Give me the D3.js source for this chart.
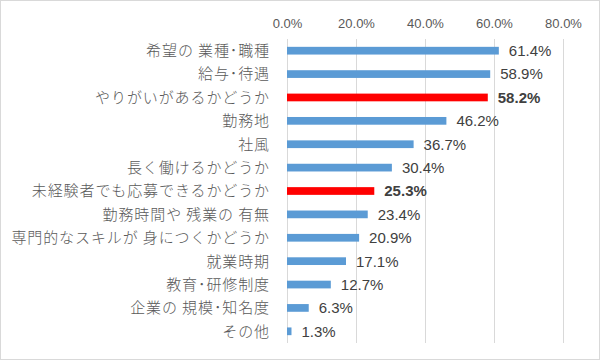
<!DOCTYPE html>
<html><head><meta charset="utf-8">
<script src="https://cdn.jsdelivr.net/npm/d3@7"></script>
<style>html,body{margin:0;padding:0;background:#fff;}svg{display:block;}</style>
</head><body>
<svg id="c" width="600" height="360"></svg>
<script>
const categories = ["希望の 業種･職種","給与･待遇","やりがいがあるかどうか","勤務地","社風","長く働けるかどうか","未経験者でも応募できるかどうか","勤務時間や 残業の 有無","専門的なスキルが 身につくかどうか","就業時期","教育･研修制度","企業の 規模･知名度","その他"];
const values = [61.4,58.9,58.2,46.2,36.7,30.4,25.3,23.4,20.9,17.1,12.7,6.3,1.3];
const highlighted = [false,false,true,false,false,false,true,false,false,false,false,false,false];
const ticks = [0,20,40,60,80];

const svg = d3.select("#c");
svg.append("rect").attr("x",0.5).attr("y",0.5).attr("width",599).attr("height",359)
  .attr("fill","#fff").attr("stroke","#d9d9d9");

const x = d3.scaleLinear().domain([0,80]).range([287,563]);
const y = d3.scaleBand().domain(categories).range([39,343]).paddingInner(0.67).paddingOuter(0.335);

// gridlines
svg.append("g").selectAll("line").data(ticks).join("line")
  .attr("x1",d=>x(d)+0.5).attr("x2",d=>x(d)+0.5).attr("y1",39).attr("y2",343)
  .attr("stroke","#d9d9d9").attr("stroke-width",1);

// top axis labels
const ax = svg.append("g").attr("transform","translate(0,23)")
  .call(d3.axisTop(x).tickValues(ticks).tickFormat(d=>d.toFixed(1)+"%").tickSize(0).tickPadding(0));
ax.select(".domain").remove();
ax.selectAll("text").attr("font-family","'Liberation Sans',Arial,sans-serif").attr("font-size",13)
  .attr("fill","#595959").attr("dy","0.35em");

// category labels
svg.append("g").selectAll("text").data(categories).join("text")
  .attr("x",270).attr("y",d=>y(d)+y.bandwidth()/2).attr("dy","0.36em")
  .attr("text-anchor","end").attr("font-family","'Noto Sans CJK JP',sans-serif")
  .attr("font-size",15).attr("font-weight",300).attr("letter-spacing","0.9px").attr("fill","#595959").text(d=>d);

// bars
svg.append("g").selectAll("rect").data(values).join("rect")
  .attr("x",x(0)).attr("y",(d,i)=>y(categories[i]))
  .attr("width",d=>x(d)-x(0)).attr("height",y.bandwidth())
  .attr("fill",(d,i)=>highlighted[i]?"#ff0000":"#5b9bd5");

// value labels
svg.append("g").selectAll("text").data(values).join("text")
  .attr("x",d=>x(d)+10).attr("y",(d,i)=>y(categories[i])+y.bandwidth()/2).attr("dy","0.36em")
  .attr("font-family","'Liberation Sans',Arial,sans-serif").attr("font-size",15)
  .attr("font-weight",(d,i)=>highlighted[i]?"bold":"normal")
  .attr("fill","#404040").text(d=>d.toFixed(1)+"%");
</script>
</body></html>
